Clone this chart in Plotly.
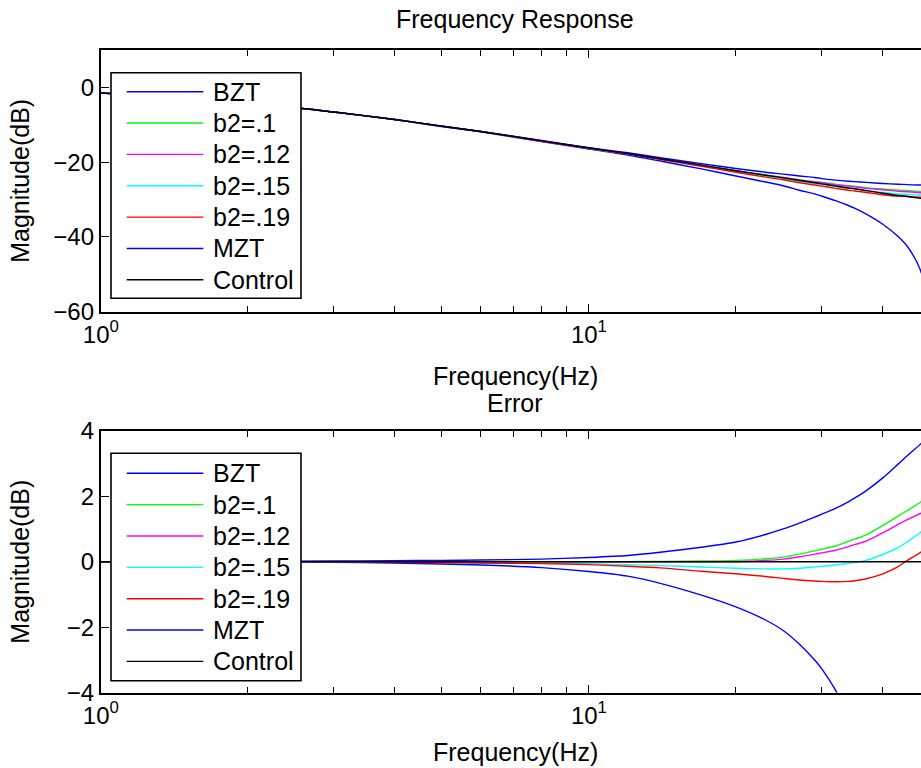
import plotly.graph_objects as go

# ---------------- data ----------------
freq = [1, 2, 3, 4, 5, 6, 8, 10, 12, 14, 17, 20, 23, 25, 27, 29, 30, 32, 34, 35, 37, 40, 43, 45, 48, 50]

series_names = ["BZT", "b2=.1", "b2=.12", "b2=.15", "b2=.19", "MZT", "Control"]
series_colors = ["#0000FF", "#00FF00", "#FF00FF", "#00FFFF", "#FF0000", "#0000FF", "#000000"]

# Frequency response magnitude (dB)
mag_bzt = [-1.5, -4.1, -6.6, -8.6, -10.5, -11.9, -14.5, -16.5, -18.1, -19.7, -21.8, -23.7, -25.3, -26.3, -27.5, -28.5, -29.1, -30.3, -31.6, -32.3, -33.9, -36.6, -39.9, -42.7, -49.7, -70.0]
mag_b10 = [-1.5, -4.1, -6.6, -8.6, -10.4, -11.8, -14.3, -16.2, -17.7, -19.1, -20.8, -22.3, -23.4, -24.1, -24.7, -25.2, -25.4, -25.9, -26.3, -26.4, -26.8, -27.2, -27.5, -27.6, -27.9, -28.0]
mag_b12 = [-1.5, -4.1, -6.6, -8.6, -10.4, -11.8, -14.3, -16.2, -17.7, -19.1, -20.8, -22.3, -23.5, -24.1, -24.8, -25.3, -25.5, -26.1, -26.4, -26.6, -27.0, -27.4, -27.8, -27.9, -28.2, -28.4]
mag_b15 = [-1.5, -4.1, -6.6, -8.6, -10.4, -11.8, -14.3, -16.3, -17.8, -19.2, -21.0, -22.5, -23.7, -24.4, -25.1, -25.7, -25.9, -26.5, -27.0, -27.1, -27.6, -28.1, -28.5, -28.6, -28.8, -28.8]
mag_b19 = [-1.5, -4.1, -6.6, -8.6, -10.4, -11.8, -14.4, -16.3, -17.8, -19.3, -21.1, -22.7, -24.0, -24.7, -25.5, -26.1, -26.4, -27.0, -27.5, -27.7, -28.1, -28.7, -29.1, -29.2, -29.4, -29.5]
mag_mzt = [-1.5, -4.1, -6.6, -8.6, -10.4, -11.8, -14.2, -16.1, -17.5, -18.8, -20.4, -21.7, -22.7, -23.2, -23.7, -24.1, -24.4, -24.8, -25.1, -25.2, -25.4, -25.7, -25.9, -26.0, -26.1, -26.1]
mag_control = [-1.5, -4.1, -6.6, -8.6, -10.4, -11.8, -14.3, -16.2, -17.7, -19.1, -20.8, -22.3, -23.5, -24.2, -24.9, -25.5, -25.8, -26.4, -26.9, -27.1, -27.6, -28.3, -28.9, -29.2, -29.7, -30.0]

# Error (dB)
err_bzt = [0.0, -0.01, -0.02, -0.04, -0.07, -0.10, -0.18, -0.30, -0.44, -0.66, -1.02, -1.38, -1.78, -2.10, -2.52, -3.00, -3.27, -3.92, -4.7, -5.2, -6.3, -8.3, -11.0, -13.5, -20.0, -40.0]
err_b10 = [0.0, 0.0, 0.0, 0.0, 0.0, 0.0, 0.0, 0.0, 0.0, 0.01, 0.02, 0.04, 0.09, 0.14, 0.23, 0.33, 0.38, 0.48, 0.62, 0.69, 0.82, 1.11, 1.39, 1.57, 1.84, 2.05]
err_b12 = [0.0, 0.0, 0.0, 0.0, 0.0, 0.0, 0.0, 0.0, 0.0, 0.0, 0.0, 0.0, 0.04, 0.08, 0.15, 0.23, 0.27, 0.35, 0.46, 0.52, 0.63, 0.88, 1.14, 1.29, 1.49, 1.65]
err_b15 = [0.0, -0.005, -0.01, -0.015, -0.02, -0.03, -0.04, -0.06, -0.09, -0.12, -0.16, -0.20, -0.22, -0.22, -0.20, -0.16, -0.14, -0.10, -0.05, -0.02, 0.04, 0.22, 0.43, 0.62, 0.92, 1.2]
err_b19 = [0.0, -0.005, -0.01, -0.02, -0.03, -0.04, -0.06, -0.09, -0.14, -0.19, -0.29, -0.37, -0.45, -0.51, -0.56, -0.59, -0.60, -0.61, -0.60, -0.58, -0.52, -0.37, -0.15, 0.05, 0.30, 0.55]
err_mzt = [0.0, 0.01, 0.02, 0.03, 0.04, 0.05, 0.08, 0.13, 0.19, 0.29, 0.44, 0.60, 0.83, 1.00, 1.18, 1.36, 1.45, 1.63, 1.83, 1.94, 2.17, 2.56, 2.98, 3.25, 3.62, 3.9]
err_control = [0.0, 0.0, 0.0, 0.0, 0.0, 0.0, 0.0, 0.0, 0.0, 0.0, 0.0, 0.0, 0.0, 0.0, 0.0, 0.0, 0.0, 0.0, 0.0, 0.0, 0.0, 0.0, 0.0, 0.0, 0.0, 0.0]

x_tick_vals = [1, 10]
x_tick_text = ["10<sup>0</sup>", "10<sup>1</sup>"]
x_minor_vals = [2, 3, 4, 5, 6, 7, 8, 9, 20, 30, 40]
y1_tick_vals = [0, -20, -40, -60]
y2_tick_vals = [-4, -2, 0, 2, 4]

top_series = [mag_bzt, mag_b10, mag_b12, mag_b15, mag_b19, mag_mzt, mag_control]
bot_series = [err_bzt, err_b10, err_b12, err_b15, err_b19, err_mzt, err_control]

# ---------------- layout constants (page pixels) ----------------
W, H = 921, 768
FONT = "Liberation Sans, Arial, Helvetica, sans-serif"
FS = 25
FS_TICK = 24
X_LEFT = 100.8
X_CENTER = 515
TOP_Y = (50.0, 311.7)
BOT_Y = (430.7, 692.7)
LW = 1.4


def px(x):
    return x / W


def py(y):
    return 1 - y / H


fig = go.Figure()

for vals, name, col in zip(top_series, series_names, series_colors):
    fig.add_trace(go.Scatter(x=freq, y=vals, mode="lines", name=name,
                             line=dict(color=col, width=LW, shape="spline", smoothing=0.8),
                             xaxis="x", yaxis="y", showlegend=False))
for vals, name, col in zip(bot_series, series_names, series_colors):
    fig.add_trace(go.Scatter(x=freq, y=vals, mode="lines", name=name,
                             line=dict(color=col, width=LW, shape="spline", smoothing=0.8),
                             xaxis="x2", yaxis="y2", showlegend=False))

xcommon = dict(type="log", range=[0, 1.6803], domain=[px(X_LEFT), 1],
               automargin=False,
               tickvals=x_tick_vals, ticktext=x_tick_text,
               ticks="inside", ticklen=8, tickwidth=1, tickcolor="black",
               showline=True, linecolor="black", linewidth=2, mirror="ticks",
               showgrid=False, zeroline=False,
               tickfont=dict(family=FONT, size=FS_TICK, color="black"),
               minor=dict(tickvals=x_minor_vals, ticks="inside", ticklen=6,
                          tickcolor="black", tickwidth=1, showgrid=False))
ycommon = dict(automargin=False,
               ticks="inside", ticklen=8, tickwidth=1, tickcolor="black",
               showline=True, linecolor="black", linewidth=2, mirror=False,
               showgrid=False, zeroline=False,
               tickfont=dict(family=FONT, size=FS_TICK, color="black"))

fig.update_layout(
    template="none",
    width=W, height=H,
    margin=dict(l=0, r=0, t=0, b=0, autoexpand=False),
    paper_bgcolor="white", plot_bgcolor="white",
    showlegend=False,
    font=dict(family=FONT, size=FS, color="black"),
    xaxis=dict(xcommon, anchor="y"),
    yaxis=dict(ycommon, range=[-60, 10], tickvals=y1_tick_vals,
               domain=[py(TOP_Y[1]), py(TOP_Y[0])], anchor="x"),
    xaxis2=dict(xcommon, anchor="y2"),
    yaxis2=dict(ycommon, range=[-4, 4], tickvals=y2_tick_vals,
                domain=[py(BOT_Y[1]), py(BOT_Y[0])], anchor="x2"),
)

# titles and axis labels
texts = [
    ("Frequency Response", X_CENTER, 19, 0),
    ("Frequency(Hz)", X_CENTER, 376, 0),
    ("Error", X_CENTER, 403, 0),
    ("Frequency(Hz)", X_CENTER, 752, 0),
    ("Magnitude(dB)", 20, (TOP_Y[0] + TOP_Y[1]) / 2, -90),
    ("Magnitude(dB)", 20, (BOT_Y[0] + BOT_Y[1]) / 2, -90),
]
for t, x, y, ang in texts:
    fig.add_annotation(text=t, x=px(x), y=py(y), xref="paper", yref="paper",
                       showarrow=False, xanchor="center", yanchor="middle",
                       textangle=ang, font=dict(family=FONT, size=FS, color="black"))

# manual MATLAB-style legends
legend_boxes = [(72.7, 298.3, 91.7), (453.3, 680.7, 473.3)]
ROW = 31.35
for top, bottom, first_row in legend_boxes:
    fig.add_shape(type="rect", xref="paper", yref="paper",
                  x0=px(111), x1=px(301), y0=py(bottom), y1=py(top),
                  fillcolor="white", line=dict(color="black", width=1.6), layer="above")
    for i, (name, col) in enumerate(zip(series_names, series_colors)):
        yy = first_row + i * ROW
        fig.add_shape(type="line", xref="paper", yref="paper",
                      x0=px(126.7), x1=px(203.3), y0=py(yy), y1=py(yy),
                      line=dict(color=col, width=LW), layer="above")
        fig.add_annotation(text=name, x=px(211), y=py(yy), xref="paper", yref="paper",
                           showarrow=False, xanchor="left", yanchor="middle",
                           font=dict(family=FONT, size=FS, color="black"))

# remove the default 8px page margin so the 921x768 figure fills the window exactly
fig.write_html("out.html",
               config={"displayModeBar": False},
               post_script="document.body.style.margin='0';document.body.style.overflow='hidden';")
